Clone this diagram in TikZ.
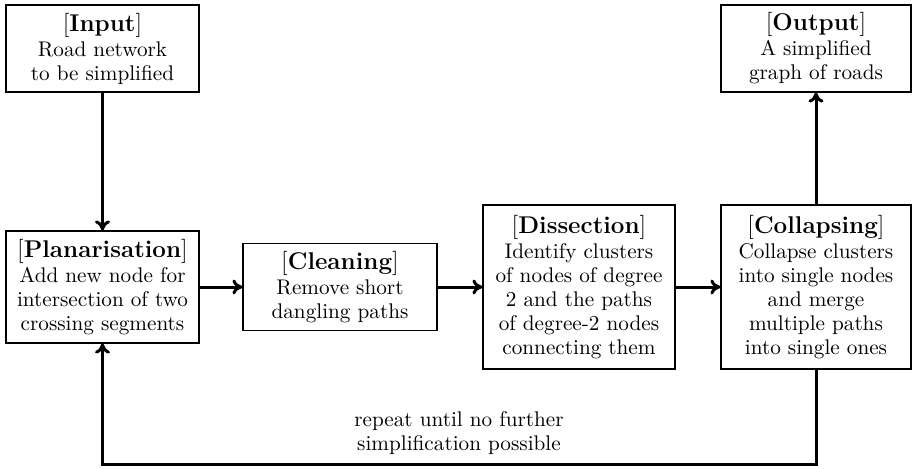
\documentclass[tikz,border=0pt]{standalone}
\usepackage{fontspec}
\usetikzlibrary{arrows.meta}
\newcommand{\bodyfont}{\fontsize{10.6}{12}\selectfont}
\newcommand{\headfont}{\fontsize{12.1}{12}\selectfont}
\newcommand{\hd}[1]{{\headfont[\textbf{#1}]}}
\begin{document}
\begin{tikzpicture}[x=0.5pt,y=-0.5pt,
  box/.style={draw, line width=0.6pt, inner sep=0pt, align=center, font=\bodyfont},
  arr/.style={-{To[length=5pt,width=7.5pt]}, line width=1.5pt},
  lab/.style={align=center, font=\bodyfont, inner sep=0pt}]
\useasboundingbox (0,0) rectangle (912,468);
\node[box, minimum width=96.5pt, minimum height=43.5pt] (inp) at (102.5,48.5) {\hd{Input}\\[0.5pt]Road network\\to be simplified};
\node[box, minimum width=95pt, minimum height=43.5pt] (out) at (816,48.5) {\hd{Output}\\[0.5pt]A simplified\\graph of roads};
\node[box, minimum width=96.5pt, minimum height=56pt] (plan) at (102.5,287) {\hd{Planarisation}\\[0.5pt]Add new node for\\intersection of two\\crossing segments};
\node[box, minimum width=97pt, minimum height=43.5pt] (clean) at (340,287) {\hd{Cleaning}\\[0.5pt]Remove short\\dangling paths};
\node[box, minimum width=96pt, minimum height=82pt] (diss) at (579,287) {\hd{Dissection}\\[0.5pt]Identify clusters\\of nodes of degree\\2 and the paths\\of degree-2 nodes\\connecting them};
\node[box, minimum width=95pt, minimum height=82pt] (coll) at (816,287) {\hd{Collapsing}\\[0.5pt]Collapse clusters\\into single nodes\\and merge\\multiple paths\\into single ones};
\coordinate (lp) at (459,464);
\draw[arr] (inp.south) -- (plan.north);
\draw[arr] (plan.east) -- (clean.west);
\draw[arr] (clean.east) -- (diss.west);
\draw[arr] (diss.east) -- (coll.west);
\draw[arr] (coll.north) -- (out.south);
\draw[arr] (coll.south) |- (lp) -| (plan.south);
\node[lab] (rep) at (459,433) {repeat until no further\\simplification possible};
\end{tikzpicture}
\end{document}
